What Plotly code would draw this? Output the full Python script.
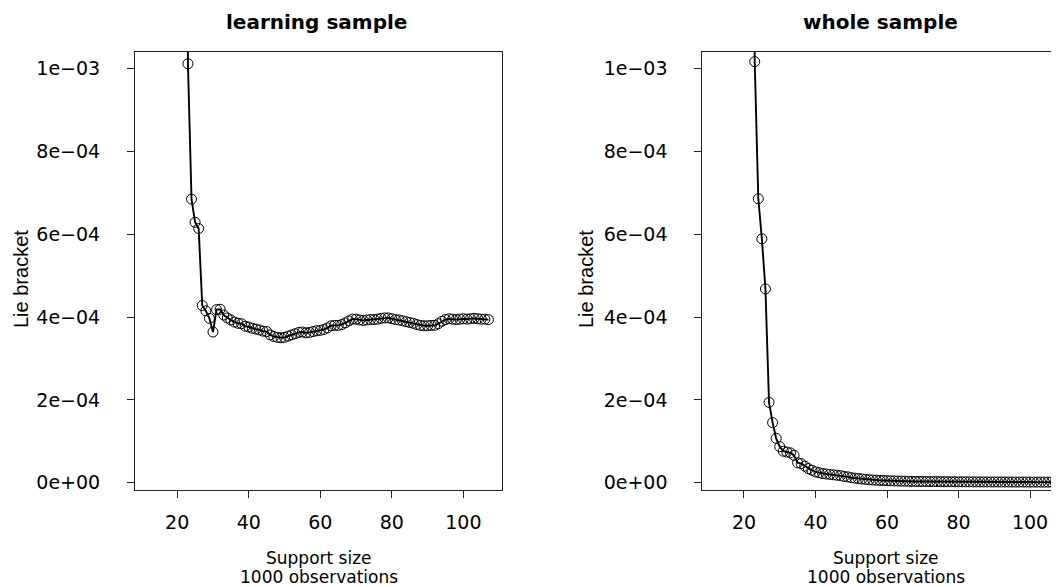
import plotly.graph_objects as go

# ---------------- data ----------------
support_size = list(range(12, 108))

learning_lie = [
    0.0150, 0.0120, 0.0095, 0.0078, 0.0064, 0.0055, 0.0048, 0.0042, 0.0037, 0.0032, 0.0028,
    1.012e-3, 6.85e-4, 6.29e-4, 6.14e-4, 4.28e-4, 4.15e-4, 3.97e-4, 3.64e-4,
    4.18e-4, 4.19e-4, 4.05e-4, 3.98e-4, 3.93e-4, 3.88e-4, 3.85e-4, 3.84e-4, 3.78e-4, 3.76e-4,
    3.73e-4, 3.71e-4, 3.69e-4, 3.66e-4, 3.65e-4, 3.57e-4, 3.53e-4, 3.51e-4, 3.50e-4, 3.51e-4,
    3.54e-4, 3.57e-4, 3.60e-4, 3.63e-4, 3.64e-4, 3.62e-4, 3.63e-4, 3.65e-4, 3.67e-4, 3.68e-4,
    3.70e-4, 3.74e-4, 3.79e-4, 3.80e-4, 3.80e-4, 3.82e-4, 3.86e-4, 3.91e-4, 3.95e-4, 3.95e-4,
    3.93e-4, 3.92e-4, 3.93e-4, 3.94e-4, 3.94e-4, 3.95e-4, 3.97e-4, 3.98e-4, 3.98e-4, 3.96e-4,
    3.94e-4, 3.93e-4, 3.91e-4, 3.89e-4, 3.87e-4, 3.85e-4, 3.82e-4, 3.80e-4, 3.79e-4, 3.79e-4,
    3.80e-4, 3.80e-4, 3.84e-4, 3.90e-4, 3.94e-4, 3.96e-4, 3.95e-4, 3.94e-4, 3.95e-4, 3.96e-4,
    3.95e-4, 3.96e-4, 3.97e-4, 3.96e-4, 3.95e-4, 3.95e-4, 3.94e-4,
]

whole_lie = [
    0.020, 0.016, 0.013, 0.010, 0.0082, 0.0068, 0.0056, 0.0047, 0.0039, 0.0032, 0.0027,
    1.017e-3, 6.86e-4, 5.89e-4, 4.68e-4, 1.94e-4, 1.45e-4, 1.07e-4, 8.7e-5,
    7.6e-5, 7.4e-5, 7.2e-5, 6.6e-5, 4.8e-5, 4.6e-5, 4.0e-5, 3.4e-5, 3.0e-5, 2.6e-5,
    2.4e-5, 2.2e-5, 2.1e-5, 2.0e-5, 1.9e-5, 1.8e-5, 1.7e-5, 1.5e-5, 1.4e-5, 1.2e-5,
    1.1e-5, 1.0e-5, 9.0e-6, 8.0e-6, 7.0e-6, 6.5e-6, 6.0e-6, 5.6e-6, 5.2e-6, 4.8e-6,
    4.5e-6, 4.2e-6, 4.0e-6, 3.8e-6, 3.6e-6, 3.4e-6, 3.2e-6, 3.0e-6, 2.9e-6, 2.8e-6,
    2.7e-6, 2.6e-6, 2.5e-6, 2.5e-6, 2.4e-6, 2.3e-6, 2.3e-6, 2.2e-6, 2.2e-6, 2.1e-6,
    2.1e-6, 2.0e-6, 2.0e-6, 1.9e-6, 1.9e-6, 1.9e-6, 1.8e-6, 1.8e-6, 1.8e-6, 1.7e-6,
    1.7e-6, 1.7e-6, 1.6e-6, 1.6e-6, 1.6e-6, 1.5e-6, 1.5e-6, 1.5e-6, 1.5e-6, 1.4e-6,
    1.4e-6, 1.4e-6, 1.4e-6, 1.3e-6, 1.3e-6, 1.3e-6, 1.3e-6,
]

y_tick_values = [0, 2e-4, 4e-4, 6e-4, 8e-4, 1e-3]
y_tick_labels = ["0e+00", "2e\u221204", "4e\u221204", "6e\u221204", "8e\u221204", "1e\u221203"]
x_tick_values = [20, 40, 60, 80, 100]
x_tick_labels = ["20", "40", "60", "80", "100"]

panel_titles = ["learning sample", "whole sample"]
x_title_1 = "Support size"
x_title_2 = "1000 observations"
y_title = "Lie bracket"

# ---------------- figure ----------------
# The page body has an 8px margin, so the figure starts at screen (8, 8).
OFF = 8
W, H = 1059 - OFF, 587 - OFF
BOX_L, BOX_T, BOX_B = 135, 52, 490          # screen pixels of the plot area
ML, MR, MT = BOX_L - OFF, 0, BOX_T - OFF
MB = H - (BOX_B - OFF)
PW = W - ML - MR
PH = H - MT - MB


def px_x(p):
    return (p - BOX_L) / PW


def px_y(p):
    return (BOX_B - p) / PH


line_style = dict(color="black", width=1.9)
marker_style = dict(symbol="circle-open", size=10, color="black", line=dict(width=1, color="black"))

fig = go.Figure()
fig.add_trace(go.Scatter(x=support_size, y=learning_lie, mode="lines+markers",
                         line=line_style, marker=marker_style, xaxis="x", yaxis="y",
                         showlegend=False))
fig.add_trace(go.Scatter(x=support_size, y=whole_lie, mode="lines+markers",
                         line=line_style, marker=marker_style, xaxis="x2", yaxis="y2",
                         showlegend=False))

tick_font = dict(family="DejaVu Sans", size=19, color="black")
axis_color = "#222222"

common_x = dict(tickvals=x_tick_values, ticktext=x_tick_labels, ticks="outside", ticklen=7,
                tickwidth=1, tickcolor=axis_color, showline=True, linecolor=axis_color,
                linewidth=1, showgrid=False, zeroline=False, tickfont=tick_font,
                ticklabelstandoff=8)
common_y = dict(tickvals=y_tick_values, ticktext=y_tick_labels, ticks="outside", ticklen=7,
                tickwidth=1, tickcolor=axis_color, showline=True, linecolor=axis_color,
                linewidth=1, showgrid=False, zeroline=False, tickfont=tick_font,
                range=[-1.77e-5, 1.0404e-3], ticklabelstandoff=23)

fig.update_layout(
    width=W, height=H,
    margin=dict(l=ML, r=MR, t=MT, b=MB, pad=0),
    paper_bgcolor="white", plot_bgcolor="white",
    xaxis=dict(domain=[0, px_x(502)], range=[8.2, 110.8], mirror=True, anchor="y", **common_x),
    yaxis=dict(domain=[0, 1], mirror=True, anchor="x", **common_y),
    xaxis2=dict(domain=[px_x(702.3), 1.0], range=[8.34, 108.1], mirror=True, anchor="y2", **common_x),
    yaxis2=dict(domain=[0, 1], mirror=False, anchor="x2", **common_y),
)

label_font = dict(family="DejaVu Sans", size=17, color="black")
title_font = dict(family="DejaVu Sans", size=20, color="black", weight="bold")

annotations = []
for cx, ttl, ylx in [(316, panel_titles[0], 21), (880, panel_titles[1], 586)]:
    annotations.append(dict(text=ttl, x=px_x(cx), y=px_y(22), xref="paper", yref="paper",
                            showarrow=False, xanchor="center", yanchor="middle", font=title_font))
    annotations.append(dict(text=y_title, x=px_x(ylx), y=px_y(279), xref="paper", yref="paper",
                            showarrow=False, xanchor="center", yanchor="middle", textangle=-90,
                            font=dict(family="Liberation Sans", size=20, color="black")))
for cx in [318.5, 885.5]:
    annotations.append(dict(text=x_title_1, x=px_x(cx), y=px_y(558), xref="paper", yref="paper",
                            showarrow=False, xanchor="center", yanchor="middle", font=label_font))
    annotations.append(dict(text=x_title_2, x=px_x(cx), y=px_y(577), xref="paper", yref="paper",
                            showarrow=False, xanchor="center", yanchor="middle", font=label_font))
fig.update_layout(annotations=annotations)

fig.write_html("out.html")
